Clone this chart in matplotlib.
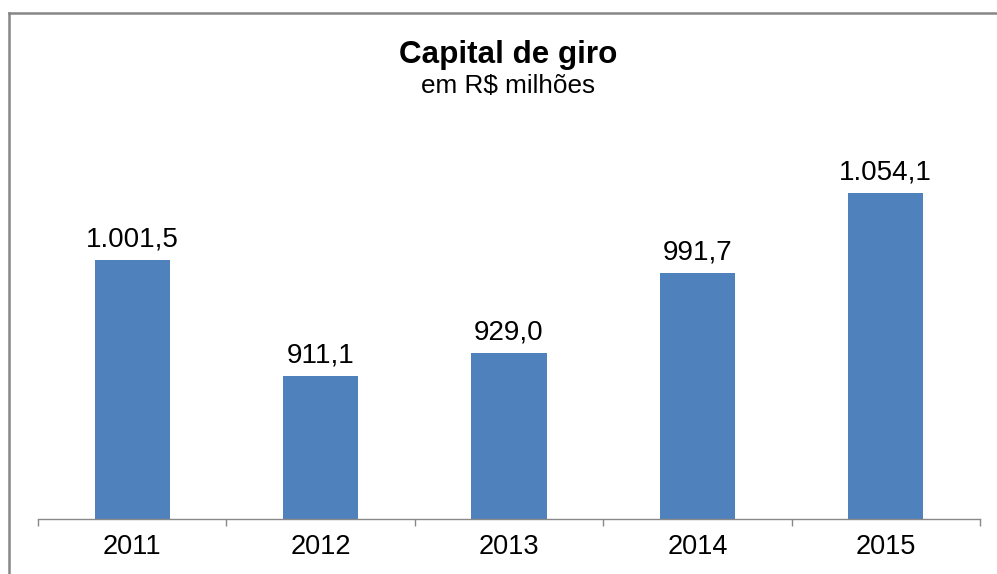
import matplotlib
matplotlib.use("Agg")
import matplotlib.pyplot as plt
from matplotlib.lines import Line2D

years = ["2011", "2012", "2013", "2014", "2015"]
values = [1001.5, 911.1, 929.0, 991.7, 1054.1]
labels = ["1.001,5", "911,1", "929,0", "991,7", "1.054,1"]

plt.rcParams['font.family'] = ['Liberation Sans', 'DejaVu Sans']

fig = plt.figure(figsize=(9.97, 5.74), dpi=100)
ax = fig.add_axes([38/997, 1 - 519/574, (980 - 38)/997, (519 - 134)/574])

x = list(range(len(years)))
ax.bar(x, values, width=0.4, color="#4F81BD", bottom=0)
ax.set_ylim(800, 1100)
ax.set_xlim(-0.5, 4.5)

for xi, v, lab in zip(x, values, labels):
    ax.annotate(lab, (xi, v), xytext=(0, 10), textcoords="offset points",
                ha="center", va="baseline", fontsize=20, color="#000000")

ax.set_xticks(x)
ax.set_xticklabels(years, fontsize=19.5)
ax.tick_params(axis="x", which="major", length=0, pad=11)
ax.set_xticks([i - 0.5 for i in range(len(years) + 1)], minor=True)
ax.tick_params(axis="x", which="minor", length=5, color="#898989", width=1)
ax.set_yticks([])
for s in ["left", "right", "top"]:
    ax.spines[s].set_visible(False)
ax.spines["bottom"].set_color("#898989")
ax.spines["bottom"].set_linewidth(1)

fig.text(508/997, 1 - 63/574, "Capital de giro", ha="center", va="baseline",
         fontsize=22.6, fontweight="bold")
fig.text(508/997, 1 - 93/574, "em R$ milhões", ha="center", va="baseline",
         fontsize=18.8)

# outer border (left and top)
fig.add_artist(Line2D([9/997, 9/997], [0, 1 - 13/574], transform=fig.transFigure,
                      color="#868686", linewidth=1.8))
fig.add_artist(Line2D([9/997, 1], [1 - 13/574, 1 - 13/574], transform=fig.transFigure,
                      color="#868686", linewidth=1.8))

fig.savefig("out.png", dpi=100)
